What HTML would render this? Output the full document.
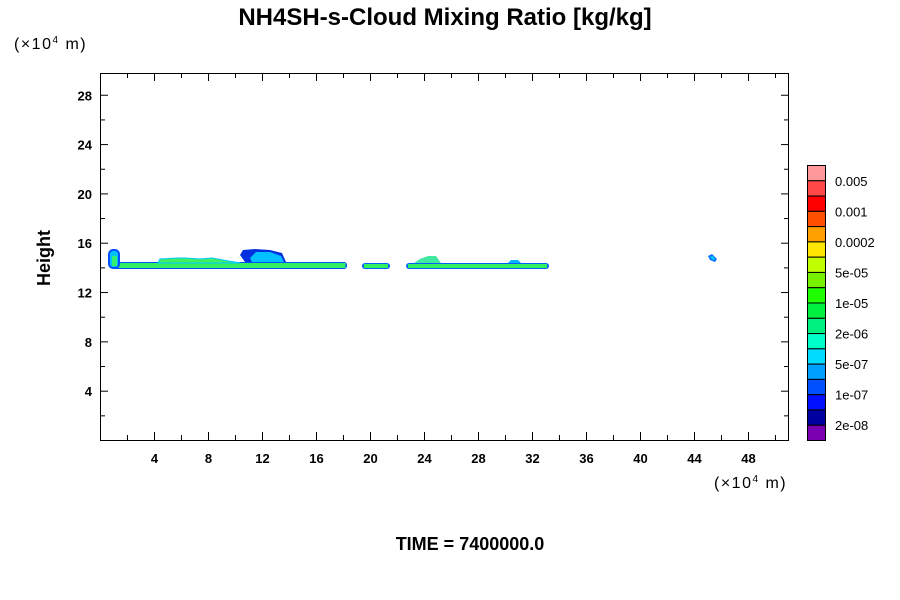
<!DOCTYPE html>
<html><head><style>
body{margin:0;background:#fff;width:900px;height:600px;overflow:hidden}
svg{display:block}
text{font-family:"Liberation Sans",sans-serif}
</style></head><body>
<svg width="900" height="600" xmlns="http://www.w3.org/2000/svg">
<text x="445" y="25" font-size="24" font-weight="bold" text-anchor="middle">NH4SH-s-Cloud Mixing Ratio [kg/kg]</text>
<text x="14" y="49" font-size="16" letter-spacing="1.5">(×10<tspan font-size="10" dy="-6">4</tspan><tspan dy="6"> m)</tspan></text>
<text x="714" y="488" font-size="16" letter-spacing="1.5">(×10<tspan font-size="10" dy="-6">4</tspan><tspan dy="6"> m)</tspan></text>
<text x="470" y="550" font-size="18" font-weight="bold" text-anchor="middle">TIME = 7400000.0</text>
<text x="50" y="258" font-size="18" font-weight="bold" text-anchor="middle" transform="rotate(-90 50 258)">Height</text>
<g>
<rect x="112" y="262" width="235" height="7" rx="3" fill="#0050ff"/>
<rect x="113.5" y="263" width="232" height="5" fill="#30f060"/>
<rect x="108" y="249" width="12" height="20" rx="5" fill="#0050ff"/>
<rect x="110" y="251" width="8" height="16" rx="3" fill="#00c0ff"/>
<rect x="112" y="256" width="5" height="10" fill="#30f070"/>
<path d="M158 263 L160 259 L178 258 L185 258 L200 259 L212 258 L240 263Z" fill="#40f060" stroke="#00c8ff" stroke-width="1"/>
<path d="M240 255 L243 250 L255 249 L270 250 L282 253 L286 262 L245 262Z" fill="#0030e0"/>
<path d="M250 258 L256 252 L270 252 L281 256 L284 262 L252 262Z" fill="#00c0ff"/>
<rect x="362" y="263" width="28" height="6" rx="3" fill="#0060ff"/>
<rect x="364" y="264" width="24" height="4" fill="#30f060"/>
<rect x="406" y="263" width="143" height="6" rx="3" fill="#0060ff"/>
<rect x="408" y="264" width="139" height="4" fill="#30f060"/>
<path d="M414 263 L420 259 L428 256 L436 256 L441 263Z" fill="#40e8a0"/>
<path d="M508 263 L511 260 L518 260 L521 263Z" fill="#00b0ff"/>
<path d="M708 256 L712 254 L717 259 L715 262 L710 260Z" fill="#0070ff"/>
<path d="M710 257 L713 256 L715 259 L713 260Z" fill="#00d0ff"/>
</g>
<rect x="100.5" y="73.5" width="688" height="367" fill="none" stroke="#000" stroke-width="1"/>
<g stroke="#000" stroke-width="1" id="ticks"></g>
<g font-size="13" font-weight="bold" id="labels"></g>
<g stroke="#000" stroke-width="1" id="cb"></g>
<g font-size="13" id="cbl"></g>
</svg>
<script>
var ns="http://www.w3.org/2000/svg";
function el(p,t,a,txt){var e=document.createElementNS(ns,t);for(var k in a)e.setAttribute(k,a[k]);if(txt)e.textContent=txt;p.appendChild(e);}
var T=document.getElementById('ticks'),L=document.getElementById('labels');
for(var i=2;i<=50;i+=2){var x=100.5+i*13.5;var len=(i%4==0)?8:5;
el(T,'line',{x1:x,y1:73,x2:x,y2:73+len});el(T,'line',{x1:x,y1:440,x2:x,y2:440-len});
if(i%4==0)el(L,'text',{x:x,y:463,'text-anchor':'middle'},String(i));}
for(var j=2;j<=28;j+=2){var y=440.5-j*12.33;var len=(j%4==0)?8:5;
el(T,'line',{x1:100,y1:y,x2:100+len,y2:y});el(T,'line',{x1:789,y1:y,x2:789-len,y2:y});
if(j%4==0)el(L,'text',{x:92,y:y+5,'text-anchor':'end'},String(j));}
var cols=["#ff9999","#ff4848","#ff0000","#ff5000","#ffa000","#ffe600","#c0ff00","#78f000","#20ff00","#00f040","#00f080","#00ffc8","#00dcff","#00a0ff","#0050ff","#0010ff","#0000a0","#7800b0"];
var C=document.getElementById('cb'),CL=document.getElementById('cbl');
var h=275/18;
for(var k=0;k<18;k++){el(C,'rect',{x:807.5,y:165.5+k*h,width:18,height:h,fill:cols[k]});}
var labs=["0.005","0.001","0.0002","5e-05","1e-05","2e-06","5e-07","1e-07","2e-08"];
for(var m=0;m<9;m++){el(CL,'text',{x:835,y:165.5+(2*m+1)*h+5},labs[m]);}
</script>
</body></html>
